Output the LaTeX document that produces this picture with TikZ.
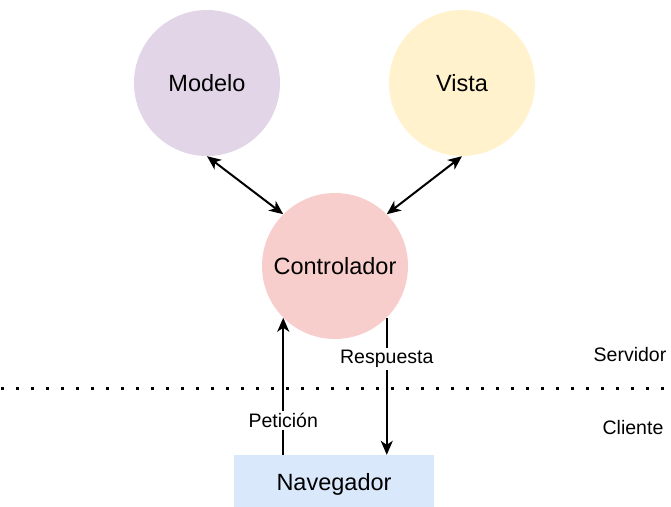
\documentclass[tikz,border=0pt]{standalone}
\usepackage{fontspec}
\setmainfont{Liberation Sans}
\usepackage{xcolor}
\usetikzlibrary{arrows.meta, positioning, calc}

\definecolor{modelocol}{HTML}{E1D5E7}
\definecolor{vistacol}{HTML}{FFF2CC}
\definecolor{ctrlcol}{HTML}{F8CECC}
\definecolor{navcol}{HTML}{DAE8FC}

\begin{document}
\begin{tikzpicture}[x=1pt, y=-1pt,
        capa/.style={circle, minimum size=146pt, inner sep=0pt,
            font=\fontsize{23.5}{28}\selectfont},
        punta/.style={-{Stealth[length=14pt, width=12pt, inset=4pt]}},
        doble/.style={{Stealth[length=14pt, width=12pt, inset=4pt]}-{Stealth[length=14pt, width=12pt, inset=4pt]}},
        flecha/.style={line width=2pt},
        etiqueta/.style={fill=white, inner sep=2pt,
            font=\fontsize{19.5}{23}\selectfont}]

        \useasboundingbox (0,0) rectangle (671,506);

        \node[capa, fill=modelocol] (modelo) at (207,83) {Modelo};
        \node[capa, fill=vistacol] (vista) at (462,83) {Vista};
        \node[capa, fill=ctrlcol] (ctrl) at (335,266) {Controlador};
        \node[fill=navcol, minimum width=200pt, minimum height=58pt,
            inner sep=0pt, font=\fontsize{23.5}{28}\selectfont]
            (nav) at (334,484) {Navegador};

        % servidor / cliente
        \draw[line width=3pt, dash pattern=on 3pt off 12pt] (1,388) -- (671,388);
        \node[etiqueta] (servidor) at (630,355) {Servidor};
        \node[etiqueta] (cliente) at (633,428) {Cliente};

        \draw[flecha, doble] (modelo.south) -- (ctrl.135);
        \draw[flecha, doble] (vista.south) -- (ctrl.45);

        \draw[flecha, punta] (nav.north -| ctrl.225) -- node[etiqueta, pos=0.25] (peticion) {Petición} (ctrl.225);
        \draw[flecha, punta] (ctrl.-45) -- node[etiqueta, pos=0.3] (respuesta) {Respuesta} (ctrl.-45 |- nav.north);
\end{tikzpicture}
\end{document}
